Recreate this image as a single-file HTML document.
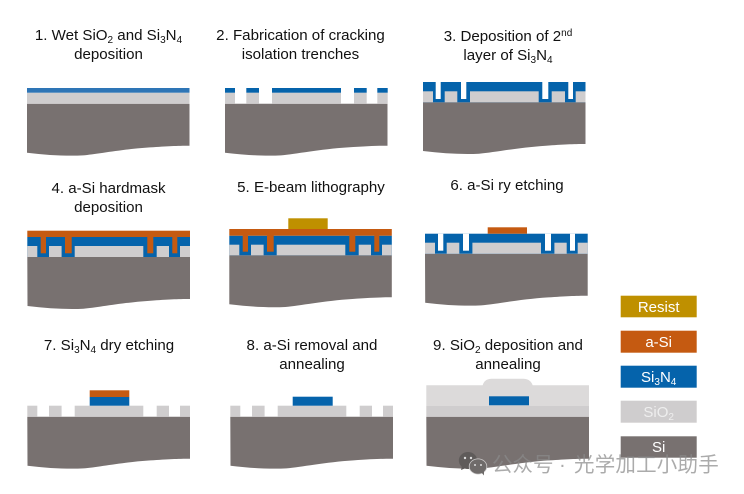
<!DOCTYPE html>
<html><head><meta charset="utf-8"><style>
html,body{margin:0;padding:0;background:#fff}
svg{display:block;filter:blur(0.35px)}
.t{font:15.1px "Liberation Sans",Arial,sans-serif;fill:#111;text-anchor:middle}
.l{font:15px "Liberation Sans",Arial,sans-serif;fill:#fff;text-anchor:middle}
.si{fill:#787170}.g{fill:#cfcdce}.b{fill:#0563ab}.o{fill:#c55a11}.r{fill:#bf9000}
.w{fill:#fff}
.s{font-size:10px}
</style></head><body>
<svg width="744" height="494" viewBox="0 0 744 494" xmlns="http://www.w3.org/2000/svg">
<rect width="744" height="494" fill="#fff"/>

<!-- Panel 1 -->
<g transform="translate(27,0)">
<path class="si" d="M0,103.7H162.5V145.7c-12.5,0 -22.5,.5 -39.5,1.7c-28,1.8 -53,6.8 -67,8c-16,.8 -36,-.2 -56,-2.7z"/>
<rect class="g" x="0" y="92.7" width="162.5" height="11"/>
<rect x="0" y="88" width="162.5" height="4.7" fill="#2e75b6"/>
</g>

<!-- Panel 2 -->
<g transform="translate(225,0)">
<path class="si" d="M0,103.7H162.5V145.7c-12.5,0 -22.5,.5 -39.5,1.7c-28,1.8 -53,6.8 -67,8c-16,.8 -36,-.2 -56,-2.7z"/>
<g class="g"><rect x="0" y="92.7" width="10" height="11"/><rect x="21.3" y="92.7" width="12.7" height="11"/><rect x="47" y="92.7" width="69" height="11"/><rect x="129" y="92.7" width="12.7" height="11"/><rect x="152.3" y="92.7" width="10.4" height="11"/></g>
<g class="b"><rect x="0" y="88" width="10" height="4.7"/><rect x="21.3" y="88" width="12.7" height="4.7"/><rect x="47" y="88" width="69" height="4.7"/><rect x="129" y="88" width="12.7" height="4.7"/><rect x="152.3" y="88" width="10.4" height="4.7"/></g>
</g>

<!-- Panel 3 -->
<g transform="translate(423,0)">
<path class="si" d="M0,102.3H162.5V144c-12.5,0 -22.5,.5 -39.5,1.7c-28,1.8 -53,6.8 -67,8c-16,.8 -36,-.2 -56,-2.7z"/>
<rect class="b" x="0" y="82" width="162.5" height="20.3"/>
<g class="g"><rect x="0" y="91.3" width="10" height="11"/><rect x="21.7" y="91.3" width="12.6" height="11"/><rect x="47" y="91.3" width="68.7" height="11"/><rect x="128.7" y="91.3" width="13.3" height="11"/><rect x="152.7" y="91.3" width="9.8" height="11"/></g>
<g class="w"><rect x="12.7" y="82" width="5" height="17"/><rect x="38" y="82" width="5.3" height="17"/><rect x="119.3" y="82" width="6" height="17"/><rect x="145.3" y="82" width="4.7" height="17"/></g>
</g>

<!-- Panel 4 -->
<g transform="translate(27.3,0)">
<path class="si" d="M0,257H162.7V299c-12.5,0 -22.5,.5 -39.5,1.7c-28,1.8 -53,6.8 -67,8c-16,.8 -36,-.2 -56,-2.7z"/>
<rect class="b" x="0" y="237" width="162.7" height="20"/>
<g class="g"><rect x="0" y="246" width="10" height="11"/><rect x="21.7" y="246" width="12.6" height="11"/><rect x="47.4" y="246" width="68.6" height="11"/><rect x="129.4" y="246" width="12.3" height="11"/><rect x="152.7" y="246" width="10" height="11"/></g>
<g class="o"><rect x="0" y="230.7" width="162.7" height="6.3"/><rect x="13.4" y="236" width="5.3" height="17.3"/><rect x="37.7" y="236" width="6.7" height="17.3"/><rect x="120" y="236" width="6" height="17.3"/><rect x="145" y="236" width="5" height="17.3"/></g>
</g>

<!-- Panel 5 -->
<g transform="translate(229.3,0)">
<path class="si" d="M0,255.3H162.5V297.3c-12.5,0 -22.5,.5 -39.5,1.7c-28,1.8 -53,6.8 -67,8c-16,.8 -36,-.2 -56,-2.7z"/>
<rect class="b" x="0" y="235.7" width="162.5" height="19.6"/>
<g class="g"><rect x="0" y="244.7" width="10" height="10.6"/><rect x="21.7" y="244.7" width="12.6" height="10.6"/><rect x="47.4" y="244.7" width="68.6" height="10.6"/><rect x="129.4" y="244.7" width="12.3" height="10.6"/><rect x="152.7" y="244.7" width="9.8" height="10.6"/></g>
<g class="o"><rect x="0" y="229" width="162.5" height="6.7"/><rect x="13.4" y="235" width="5.3" height="16.7"/><rect x="37.7" y="235" width="6.7" height="16.7"/><rect x="120" y="235" width="6" height="16.7"/><rect x="145" y="235" width="5" height="16.7"/></g>
<rect class="r" x="59" y="218.3" width="39.4" height="10.7"/>
</g>

<!-- Panel 6 -->
<g transform="translate(425,0)">
<path class="si" d="M0,253.7H162.7V295.7c-12.5,0 -22.5,.5 -39.5,1.7c-28,1.8 -53,6.8 -67,8c-16,.8 -36,-.2 -56,-2.7z"/>
<rect class="b" x="0" y="233.7" width="162.7" height="20"/>
<g class="g"><rect x="0" y="242.7" width="10" height="11"/><rect x="21.7" y="242.7" width="12.6" height="11"/><rect x="47.4" y="242.7" width="68.6" height="11"/><rect x="129.4" y="242.7" width="12.3" height="11"/><rect x="152.7" y="242.7" width="10" height="11"/></g>
<g class="w"><rect x="13" y="233.7" width="5.3" height="17"/><rect x="38" y="233.7" width="6" height="17"/><rect x="120" y="233.7" width="6" height="17"/><rect x="145" y="233.7" width="5" height="17"/></g>
<rect class="o" x="62.7" y="227.3" width="39.3" height="6.4"/>
</g>

<!-- Panel 7 -->
<g transform="translate(27.3,0)">
<path class="si" d="M0,416.7H162.7V458.7c-12.5,0 -22.5,.5 -39.5,1.7c-28,1.8 -53,6.8 -67,8c-16,.8 -36,-.2 -56,-2.7z"/>
<g class="g"><rect x="0" y="405.7" width="10" height="11"/><rect x="21.7" y="405.7" width="12.6" height="11"/><rect x="47.4" y="405.7" width="68.6" height="11"/><rect x="129.4" y="405.7" width="12.3" height="11"/><rect x="152.7" y="405.7" width="10" height="11"/></g>
<rect class="b" x="62.4" y="397" width="39.6" height="8.7"/>
<rect class="o" x="62.4" y="390.3" width="39.6" height="6.7"/>
</g>

<!-- Panel 8 -->
<g transform="translate(230.3,0)">
<path class="si" d="M0,416.7H162.7V458.7c-12.5,0 -22.5,.5 -39.5,1.7c-28,1.8 -53,6.8 -67,8c-16,.8 -36,-.2 -56,-2.7z"/>
<g class="g"><rect x="0" y="405.7" width="10" height="11"/><rect x="21.7" y="405.7" width="12.6" height="11"/><rect x="47.4" y="405.7" width="68.6" height="11"/><rect x="129.4" y="405.7" width="12.3" height="11"/><rect x="152.7" y="405.7" width="10" height="11"/></g>
<rect class="b" x="62.4" y="396.7" width="40" height="9"/>
</g>

<!-- Panel 9 -->
<g transform="translate(426.3,0)">
<path class="si" d="M0,416.7H162.7V458.7c-12.5,0 -22.5,.5 -39.5,1.7c-28,1.8 -53,6.8 -67,8c-16,.8 -36,-.2 -56,-2.7z"/>
<rect class="g" x="0" y="406" width="162.7" height="10.7"/>
<path fill="#dcdada" d="M0,385.3H56.4c1,-4 4,-6.6 9,-6.6H97c5,0 8,2.6 9.4,6.6H162.7V406H0z"/>
<rect class="b" x="62.7" y="396.3" width="40" height="9"/>
</g>

<!-- Legend -->
<rect class="r" x="620.7" y="295.7" width="76" height="21.6"/>
<rect class="o" x="620.7" y="330.7" width="76" height="22"/>
<rect class="b" x="620.7" y="365.7" width="76" height="22"/>
<rect class="g" x="620.7" y="400.7" width="76" height="22"/>
<rect class="si" x="620.7" y="436.3" width="76" height="21.4"/>
<text class="l" x="658.7" y="312">Resist</text>
<text class="l" x="658.7" y="347">a-Si</text>
<text class="l" x="658.7" y="382">Si<tspan class="s" dy="3">3</tspan><tspan dy="-3">N</tspan><tspan class="s" dy="3">4</tspan></text>
<text class="l" x="658.7" y="417" style="fill:#eeeeee">SiO<tspan class="s" dy="3">2</tspan></text>
<text class="l" x="658.7" y="452">Si</text>

<!-- Titles -->
<text class="t" x="108.5" y="40">1. Wet SiO<tspan class="s" dy="3">2</tspan><tspan dy="-3"> and Si</tspan><tspan class="s" dy="3">3</tspan><tspan dy="-3">N</tspan><tspan class="s" dy="3">4</tspan></text>
<text class="t" x="108.5" y="59">deposition</text>
<text class="t" x="300.5" y="40">2. Fabrication of cracking</text>
<text class="t" x="300.5" y="59">isolation trenches</text>
<text class="t" x="508" y="41">3. Deposition of 2<tspan class="s" dy="-5">nd</tspan></text>
<text class="t" x="508" y="60">layer of Si<tspan class="s" dy="3">3</tspan><tspan dy="-3">N</tspan><tspan class="s" dy="3">4</tspan></text>
<text class="t" x="108.5" y="193">4. a-Si hardmask</text>
<text class="t" x="108.5" y="212">deposition</text>
<text class="t" x="311" y="192">5. E-beam lithography</text>
<text class="t" x="507" y="190">6. a-Si ry etching</text>
<text class="t" x="109" y="350">7. Si<tspan class="s" dy="3">3</tspan><tspan dy="-3">N</tspan><tspan class="s" dy="3">4</tspan><tspan dy="-3"> dry etching</tspan></text>
<text class="t" x="312" y="350">8. a-Si removal and</text>
<text class="t" x="312" y="369">annealing</text>
<text class="t" x="508" y="350">9. SiO<tspan class="s" dy="3">2</tspan><tspan dy="-3"> deposition and</tspan></text>
<text class="t" x="508" y="369">annealing</text>

<!-- Watermark -->
<g>
<ellipse cx="468" cy="460.5" rx="9.2" ry="8.5" fill="#5f5b5a"/>
<path d="M462,466l-1,4 5,-2z" fill="#5f5b5a"/>
<ellipse cx="478" cy="466.5" rx="8.8" ry="7.6" fill="#6f6b6a" stroke="#cfcdcd" stroke-width=".8"/>
<path d="M481,472l3,3.5 0,-4.5z" fill="#6f6b6a"/>
<circle cx="465" cy="458" r="1.2" fill="#ddd"/>
<circle cx="471" cy="458" r="1.2" fill="#ddd"/>
<circle cx="475" cy="465" r="1" fill="#ddd"/>
<circle cx="481" cy="465" r="1" fill="#ddd"/>
<text x="492 512.5 533 559 574 594.7 615.4 636.1 656.8 677.5 698.2" y="471.5" fill="#8a8a8a" fill-opacity=".72" style="font:20.5px 'Liberation Sans','Noto Sans CJK SC',sans-serif">公众号·光学加工小助手</text>
</g>
</svg>
</body></html>
